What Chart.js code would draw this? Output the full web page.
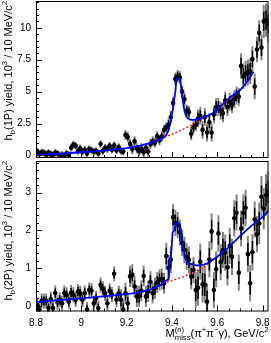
<!DOCTYPE html>
<html>
<head>
<meta charset="utf-8">
<script src="https://cdn.jsdelivr.net/npm/chart.js@4.4.0/dist/chart.umd.min.js"></script>
<style>
  body { margin: 0; background: #fff; }
  #wrap { position: relative; width: 271px; height: 343px; }
  canvas { position: absolute; left: 0; }
</style>
</head>
<body>
<div id="wrap">
  <canvas id="top1P" width="271" height="160" style="top:0px"></canvas>
  <canvas id="bottom2P" width="271" height="183" style="top:160px"></canvas>
</div>
<script>
const FONT = '"Liberation Sans", Arial, sans-serif';

// histogram binning, GeV (10 MeV bins)
const binStart = 8.8;
const binWidth = 0.01;
const xTickValues = [8.8, 9, 9.2, 9.4, 9.6, 9.8];

// h_b(1P) yield, 10^3 per bin
const yield1P = [
  0.30, 0.10, 0.25, 0.20, 0.10, 0.20, 0.10, 0.05, 0.20, 0.15,
  0.00, 0.05, -0.05, 0.15, 0.05, 0.60, 0.85, 0.75, 0.35, 0.55,
  0.30, 0.45, 0.15, 0.50, 0.40, 0.30, 0.35, 0.15, 0.90, 0.35,
  0.60, 0.50, 0.75, 0.45, 0.80, 0.40, 0.65, 0.35, 0.30, 1.60,
  1.45, 0.90, 0.50, 1.10, 0.55, 0.35, 0.55, 0.25, 0.60, 0.30,
  0.90, 1.10, 1.00, 1.50, 1.20, 1.50, 2.00, 2.20, 2.40, 3.00,
  4.10, 6.00, 6.20, 6.10, 5.00, 4.40, 3.50, 3.40, 1.70, 2.20,
  2.40, 2.90, 3.10, 2.00, 3.00, 1.80, 2.60, 1.80, 3.20, 3.80,
  3.80, 3.50, 3.30, 4.30, 3.80, 4.20, 4.00, 4.40, 4.70, 4.60,
  7.00, 6.20, 6.40, 6.50, 6.60, 7.55, 5.40, 8.30, 9.60, 8.45,
  10.50, 10.60, 10.30
];
const stat1P = [
  0.2, 0.2, 0.2, 0.2, 0.2, 0.2, 0.2, 0.2, 0.2, 0.2,
  0.2, 0.2, 0.2, 0.2, 0.2, 0.2, 0.2, 0.2, 0.2, 0.2,
  0.2, 0.2, 0.2, 0.2, 0.2, 0.2, 0.2, 0.2, 0.2, 0.2,
  0.2, 0.2, 0.2, 0.2, 0.2, 0.2, 0.2, 0.2, 0.2, 0.25,
  0.25, 0.25, 0.25, 0.25, 0.25, 0.25, 0.25, 0.25, 0.25, 0.25,
  0.25, 0.25, 0.25, 0.25, 0.25, 0.25, 0.25, 0.25, 0.35, 0.35,
  0.35, 0.35, 0.35, 0.35, 0.35, 0.35, 0.35, 0.35, 0.35, 0.35,
  0.35, 0.45, 0.45, 0.45, 0.45, 0.45, 0.45, 0.45, 0.45, 0.45,
  0.45, 0.45, 0.45, 0.45, 0.45, 0.45, 0.45, 0.45, 0.45, 0.45,
  0.65, 0.65, 0.65, 0.65, 0.65, 0.65, 0.65, 0.65, 0.65, 0.65,
  0.75, 0.75, 0.75
];
const total1P = [
  0.3, 0.3, 0.3, 0.3, 0.3, 0.3, 0.3, 0.3, 0.3, 0.3,
  0.3, 0.3, 0.3, 0.3, 0.3, 0.3, 0.3, 0.3, 0.3, 0.3,
  0.3, 0.3, 0.3, 0.3, 0.3, 0.3, 0.3, 0.3, 0.3, 0.3,
  0.3, 0.3, 0.3, 0.3, 0.3, 0.3, 0.3, 0.3, 0.3, 0.4,
  0.4, 0.4, 0.4, 0.4, 0.4, 0.4, 0.4, 0.4, 0.4, 0.4,
  0.4, 0.4, 0.4, 0.4, 0.4, 0.4, 0.4, 0.4, 0.5, 0.5,
  0.5, 0.5, 0.5, 0.5, 0.5, 0.5, 0.5, 0.5, 0.5, 0.5,
  0.5, 0.7, 0.7, 0.7, 0.7, 0.7, 0.7, 0.7, 0.7, 0.7,
  0.7, 0.7, 0.7, 0.7, 0.7, 0.7, 0.7, 0.7, 0.7, 0.7,
  1.0, 1.0, 1.0, 1.0, 1.0, 1.0, 1.0, 1.0, 1.0, 1.0,
  1.3, 1.3, 1.5
];
// fit (signal + background) and background only, h_b(1P)
const fit1PX = [8.8, 8.85, 8.9, 8.95, 9.0, 9.05, 9.1, 9.15, 9.2, 9.25, 9.3, 9.33, 9.36, 9.375, 9.385,
  9.395, 9.405, 9.41, 9.415, 9.42, 9.43, 9.437, 9.442, 9.447, 9.455, 9.462, 9.47, 9.48, 9.49, 9.5,
  9.52, 9.54, 9.56, 9.58, 9.6, 9.62, 9.64, 9.66, 9.68, 9.7, 9.72, 9.74, 9.76];
const fit1PY = [0.05, 0.08, 0.13, 0.19, 0.25, 0.32, 0.38, 0.47, 0.58, 0.73, 0.95, 1.1, 1.35, 1.6, 2.0,
  2.8, 3.7, 4.4, 5.0, 6.0, 6.05, 6.0, 5.0, 4.4, 3.5, 3.1, 2.9, 2.8, 2.78, 2.78,
  2.85, 2.98, 3.12, 3.3, 3.6, 3.95, 4.3, 4.6, 4.85, 5.1, 5.5, 6.0, 6.55];
const bg1PX = [9.30, 9.35, 9.40, 9.45, 9.50, 9.55, 9.60, 9.65, 9.70, 9.75];
const bg1PY = [1.0, 1.3, 1.65, 2.05, 2.5, 3.0, 3.55, 4.35, 5.15, 6.1];

// h_b(2P) yield, 10^3 per bin
const yield2P = [
  0.03, -0.10, 0.13, 0.13, 0.13, -0.06, 0.18, -0.06, 0.34, 0.09,
  0.16, 0.07, 0.34, 0.29, 0.11, 0.35, 0.29, 0.16, 0.38, 0.33,
  0.16, 0.34, -0.10, 0.42, 0.40, 0.07, 0.20, -0.06, 0.55, 0.45,
  0.33, 0.07, 0.40, 0.30, 0.85, 0.16, 0.33, 0.16, -0.10, 0.33,
  0.07, 0.78, 0.82, 0.51, 0.25, 0.25, 0.40, 0.79, 0.25, 0.38,
  0.64, 0.34, 0.47, 0.62, 0.69, 0.71, 0.60, 1.32, 1.00, 1.22,
  2.35, 2.20, 2.14, 1.94, 1.67, 1.48, 1.30, 1.22, 0.78, 0.95,
  0.42, 0.48, 1.17, 0.57, 0.56, 0.11, 1.23, 1.97, 0.42, 0.97,
  1.92, 1.16, 1.48, 1.41, 1.02, 1.59, 1.30, 2.32, 2.47, 0.88,
  2.05, 2.47, 2.60, 1.37, 0.60, 1.42, 2.29, 1.90, 2.19, 2.89,
  2.58, 2.94, 3.02
];
const stat2P = [
  0.12, 0.12, 0.12, 0.12, 0.12, 0.12, 0.12, 0.12, 0.12, 0.12,
  0.12, 0.12, 0.12, 0.12, 0.12, 0.12, 0.12, 0.12, 0.12, 0.12,
  0.12, 0.12, 0.12, 0.12, 0.12, 0.12, 0.12, 0.12, 0.12, 0.12,
  0.12, 0.12, 0.12, 0.12, 0.12, 0.12, 0.12, 0.17, 0.17, 0.17,
  0.17, 0.17, 0.17, 0.17, 0.17, 0.17, 0.17, 0.17, 0.17, 0.17,
  0.17, 0.17, 0.17, 0.17, 0.17, 0.17, 0.17, 0.22, 0.22, 0.22,
  0.22, 0.22, 0.22, 0.22, 0.22, 0.22, 0.22, 0.22, 0.22, 0.22,
  0.3, 0.3, 0.3, 0.3, 0.3, 0.3, 0.3, 0.3, 0.3, 0.3,
  0.3, 0.3, 0.3, 0.3, 0.3, 0.3, 0.3, 0.3, 0.3, 0.3,
  0.3, 0.3, 0.3, 0.3, 0.3, 0.3, 0.3, 0.3, 0.3, 0.3,
  0.3, 0.3, 0.3
];
const total2P = [
  0.2, 0.2, 0.2, 0.2, 0.2, 0.2, 0.2, 0.2, 0.2, 0.2,
  0.2, 0.2, 0.2, 0.2, 0.2, 0.2, 0.2, 0.2, 0.2, 0.2,
  0.2, 0.2, 0.2, 0.2, 0.2, 0.2, 0.2, 0.2, 0.2, 0.2,
  0.2, 0.2, 0.2, 0.2, 0.2, 0.2, 0.2, 0.28, 0.28, 0.28,
  0.28, 0.28, 0.28, 0.28, 0.28, 0.28, 0.28, 0.28, 0.28, 0.28,
  0.28, 0.28, 0.28, 0.28, 0.28, 0.28, 0.28, 0.35, 0.35, 0.35,
  0.35, 0.35, 0.35, 0.35, 0.35, 0.35, 0.35, 0.35, 0.35, 0.35,
  0.48, 0.48, 0.48, 0.48, 0.48, 0.48, 0.48, 0.48, 0.48, 0.48,
  0.48, 0.48, 0.48, 0.48, 0.48, 0.48, 0.48, 0.48, 0.48, 0.48,
  0.48, 0.48, 0.48, 0.48, 0.48, 0.48, 0.48, 0.48, 0.55, 0.55,
  0.55, 0.55, 0.55
];
// fit (signal + background) and background only, h_b(2P)
const fit2PX = [8.8, 8.9, 9.0, 9.1, 9.2, 9.25, 9.3, 9.35, 9.385, 9.388, 9.393, 9.398, 9.403, 9.41,
  9.418, 9.432, 9.437, 9.443, 9.448, 9.452, 9.458, 9.465, 9.48, 9.5, 9.52, 9.54, 9.56, 9.6, 9.65,
  9.7, 9.75, 9.8, 9.826];
const fit2PY = [0.1, 0.15, 0.2, 0.25, 0.31, 0.35, 0.42, 0.55, 0.72, 0.9, 1.25, 1.5, 1.95, 2.0,
  2.19, 2.19, 2.1, 1.85, 1.65, 1.5, 1.26, 1.17, 1.12, 1.08, 1.07, 1.09, 1.14, 1.3, 1.55,
  1.85, 2.12, 2.35, 2.52];
const bg2PX = [9.36, 9.40, 9.45, 9.50, 9.55, 9.60];
const bg2PY = [0.6, 0.67, 0.77, 0.9, 1.07, 1.3];

// axis titles as text pieces (plain, {sup}, {sub})
const yTitle1P = ['h', { sub: 'b' }, '(1P) yield, 10', { sup: '3' }, ' / 10 MeV/c', { sup: '2' }];
const yTitle2P = ['h', { sub: 'b' }, '(2P) yield, 10', { sup: '3' }, ' / 10 MeV/c', { sup: '2' }];
const xTitle = ['M', { sup: '(n)', sub: 'miss' }, '(\u03c0', { sup: '+' }, '\u03c0', { sup: '\u2212' }, '\u03b3), GeV/c', { sup: '2' }];

// Draw (or only measure) a title with super/subscripts, returns width
function richText(ctx, parts, size, x, y, draw) {
    let cx = x;
    parts.forEach(p => {
        if (typeof p === 'string') {
            ctx.font = `${size}px ${FONT}`;
            if (draw) ctx.fillText(p, cx, y);
            cx += ctx.measureText(p).width;
        } else {
            ctx.font = `${size * 0.7}px ${FONT}`;
            let w = 0;
            if (p.sup) {
                if (draw) ctx.fillText(p.sup, cx, y - size * 0.42);
                w = ctx.measureText(p.sup).width;
            }
            if (p.sub) {
                if (draw) ctx.fillText(p.sub, cx, y + size * 0.25);
                w = Math.max(w, ctx.measureText(p.sub).width);
            }
            cx += w;
        }
    });
    return cx - x;
}

// ROOT-like frame, inward ticks, error bars and titles
const rootAxes = {
    id: 'rootAxes',
    beforeDatasetsDraw(chart) {
        const ctx = chart.ctx, a = chart.chartArea;
        const xs = chart.scales.x, ys = chart.scales.y;
        ctx.save();
        ctx.beginPath();
        ctx.rect(a.left, a.top, a.right - a.left, a.bottom - a.top);
        ctx.clip();
        chart.data.datasets.forEach(ds => {
            if (!ds.errTot) return;
            ds.data.forEach((p, i) => {
                const x = xs.getPixelForValue(p.x);
                ctx.strokeStyle = '#858585';
                ctx.lineWidth = 2;
                ctx.beginPath();
                ctx.moveTo(x, ys.getPixelForValue(p.y - ds.errTot[i]));
                ctx.lineTo(x, ys.getPixelForValue(p.y + ds.errTot[i]));
                ctx.stroke();
                ctx.strokeStyle = '#000';
                ctx.lineWidth = 1.5;
                ctx.beginPath();
                ctx.moveTo(x, ys.getPixelForValue(p.y - ds.errStat[i]));
                ctx.lineTo(x, ys.getPixelForValue(p.y + ds.errStat[i]));
                ctx.stroke();
            });
        });
        ctx.restore();
    },
    afterDraw(chart, args, o) {
        const ctx = chart.ctx, a = chart.chartArea;
        const xs = chart.scales.x, ys = chart.scales.y;
        ctx.save();
        ctx.strokeStyle = '#000';
        ctx.lineWidth = 1;
        ctx.strokeRect(a.left + 0.5, a.top + 0.5, a.right - a.left - 1, a.bottom - a.top - 1);

        // x ticks, pointing up from the bottom edge
        for (let k = 0; ; k++) {
            const v = xs.min + k * o.xMinor;
            if (v > xs.max + 1e-9) break;
            const px = Math.round(xs.getPixelForValue(v)) + 0.5;
            const len = k % o.xEvery === 0 ? 6 : 3;
            ctx.beginPath();
            ctx.moveTo(px, a.bottom);
            ctx.lineTo(px, a.bottom - len);
            ctx.stroke();
        }
        // y ticks, pointing right from the left edge
        for (let k = 0; ; k++) {
            const v = k * o.yMinor;
            if (v > ys.max + 1e-9) break;
            const py = Math.round(ys.getPixelForValue(v)) + 0.5;
            const len = k % o.yEvery === 0 ? 6 : 3;
            ctx.beginPath();
            ctx.moveTo(a.left, py);
            ctx.lineTo(a.left + len, py);
            ctx.stroke();
        }

        ctx.fillStyle = '#000';
        ctx.textBaseline = 'alphabetic';
        // y title, rotated, aligned to the top of the axis
        ctx.save();
        ctx.translate(o.yTitleX, a.top);
        ctx.rotate(-Math.PI / 2);
        const w = richText(ctx, o.yTitle, o.titleSize, 0, 0, false);
        richText(ctx, o.yTitle, o.titleSize, -w, 0, true);
        ctx.restore();
        // x title, aligned to the right end of the axis
        if (o.xTitle) {
            const wx = richText(ctx, o.xTitle, o.titleSize, 0, 0, false);
            richText(ctx, o.xTitle, o.titleSize, a.right - wx, o.xTitleY, true);
        }
        ctx.restore();
    }
};

function makePoints(values) {
    return values.map((v, i) => ({ x: binStart + binWidth * (i + 0.5), y: v }));
}

function makeCurve(xs, ys) {
    return xs.map((x, i) => ({ x: x, y: ys[i] }));
}

function createPanel(canvasId, values, stat, total, fitX, fitY, bgX, bgY, yMin, yMax, yTicks, frameOpts, showX) {
    const ctx = document.getElementById(canvasId).getContext('2d');
    return new Chart(ctx, {
        type: 'scatter',
        data: {
            datasets: [
                {
                    data: makeCurve(fitX, fitY),
                    showLine: true,
                    borderColor: '#0000ff',
                    borderWidth: 1.8,
                    pointRadius: 0,
                    order: 0
                },
                {
                    data: makeCurve(bgX, bgY),
                    showLine: true,
                    borderColor: '#ff0000',
                    borderWidth: 1.3,
                    borderDash: [2, 2],
                    pointRadius: 0,
                    order: 1
                },
                {
                    data: makePoints(values),
                    errStat: stat,
                    errTot: total,
                    backgroundColor: '#000',
                    borderWidth: 0,
                    pointRadius: 2.3,
                    order: 2
                }
            ]
        },
        options: {
            responsive: false,
            animation: false,
            devicePixelRatio: 1,
            layout: {
                autoPadding: false,
                padding: { top: 1, right: 2.5, bottom: showX ? 0 : 2, left: 0 }
            },
            plugins: {
                legend: { display: false },
                tooltip: { enabled: false },
                rootAxes: frameOpts
            },
            scales: {
                x: {
                    type: 'linear',
                    min: 8.8,
                    max: 9.826,
                    display: showX,
                    grid: { display: false, drawTicks: false },
                    border: { display: false },
                    afterBuildTicks: scale => { scale.ticks = xTickValues.map(v => ({ value: v })); },
                    afterFit: scale => {
                        scale.height = showX ? 31.5 : 0;
                        scale.paddingLeft = 0;
                        scale.paddingRight = 0;
                    },
                    ticks: {
                        autoSkip: false,
                        maxRotation: 0,
                        padding: 6,
                        color: '#000',
                        font: { family: FONT, size: 10 },
                        callback: v => String(v)
                    }
                },
                y: {
                    type: 'linear',
                    min: yMin,
                    max: yMax,
                    grid: { display: false, drawTicks: false },
                    border: { display: false },
                    afterBuildTicks: scale => { scale.ticks = yTicks.map(v => ({ value: v })); },
                    afterFit: scale => {
                        scale.width = 36;
                        scale.paddingTop = 0;
                        scale.paddingBottom = 0;
                    },
                    ticks: {
                        padding: 5,
                        color: '#000',
                        font: { family: FONT, size: 10 },
                        callback: v => String(v)
                    }
                }
            }
        },
        plugins: [rootAxes]
    });
}

createPanel('top1P', yield1P, stat1P, total1P, fit1PX, fit1PY, bg1PX, bg1PY,
    -0.2, 12.1, [0, 2.5, 5, 7.5, 10],
    { xMinor: 0.05, xEvery: 4, yMinor: 0.5, yEvery: 5, yTitle: yTitle1P, yTitleX: 12, titleSize: 11 },
    false);

createPanel('bottom2P', yield2P, stat2P, total2P, fit2PX, fit2PY, bg2PX, bg2PY,
    -0.15, 3.84, [0, 1, 2, 3],
    { xMinor: 0.05, xEvery: 4, yMinor: 0.2, yEvery: 5, yTitle: yTitle2P, yTitleX: 12, titleSize: 11,
      xTitle: xTitle, xTitleY: 177 },
    true);
</script>
</body>
</html>
